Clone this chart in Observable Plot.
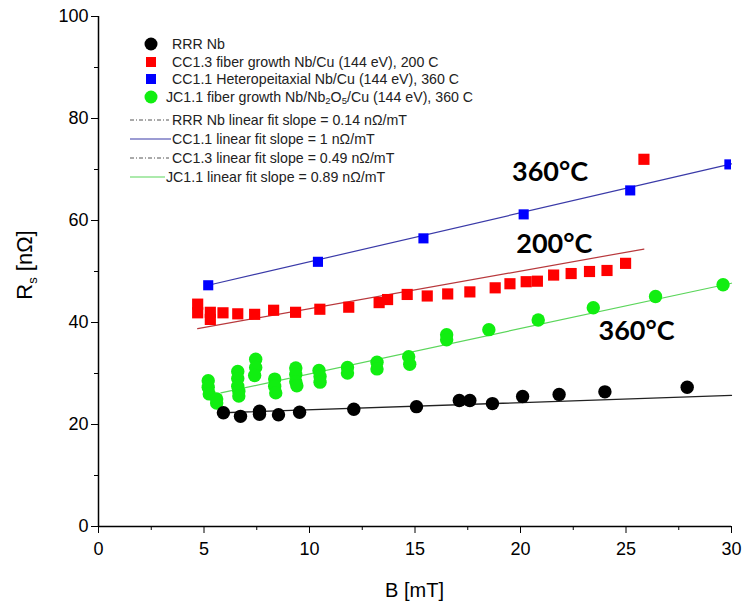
<!DOCTYPE html>
<html><head><meta charset="utf-8">
<script src="https://cdn.jsdelivr.net/npm/d3@7"></script>
<script src="https://cdn.jsdelivr.net/npm/@observablehq/plot@0.6"></script>
<style>
body{margin:0;background:#fff;}
#wrap{position:relative;width:743px;height:609px;font-family:"Liberation Sans",Arial,sans-serif;}
.row{position:absolute;font-size:14.2px;color:#222;white-space:nowrap;line-height:14px;height:14px;}
.sw{position:absolute;}
</style></head><body><div id="wrap"></div><script>
// ---- data ----
const rrrB  = [5.92,6.73,7.63,7.63,8.53,9.53,12.1,15.07,17.1,17.6,18.67,20.1,21.83,24.0,27.9];
const rrrRs = [22.3,21.6,22.0,22.6,21.9,22.4,23.0,23.5,24.7,24.7,24.1,25.5,25.9,26.4,27.3];

const jcB  = [5.2,5.2,5.25,5.6,5.6, 6.6,6.6,6.6,6.65,6.65, 7.45,7.45,7.4, 8.35,8.35,8.4, 9.35,9.35,9.35,9.4, 10.45,10.5,10.5, 11.8,11.8, 13.2,13.2, 14.7,14.75, 16.5,16.5, 18.5, 20.84, 23.45, 26.4, 29.6];
const jcRs = [28.6,27.3,26.0,25.0,24.2, 30.4,29.0,27.5,26.5,25.6, 32.8,31.2,29.6, 28.9,27.5,26.2, 31.1,29.8,28.4,27.6, 30.6,29.4,28.3, 31.2,30.1, 32.2,30.9, 33.3,31.8, 37.6,36.6, 38.6, 40.5, 42.9, 45.1, 47.4];

const cc13B  = [4.7,4.7,5.3,5.3,5.9,6.6,7.4,8.3,9.34,10.49,11.86,13.3,13.7,14.63,15.58,16.55,17.6,18.8,19.5,20.27,20.8,21.57,22.4,23.27,24.1,24.98,25.85];
const cc13Rs = [43.6,41.9,42.0,40.6,41.9,41.7,41.6,42.4,42.0,42.6,43.0,43.9,44.5,45.5,45.2,45.6,46.0,46.8,47.6,48.0,48.1,49.3,49.6,50.0,50.2,51.6,72.0];

const cc11B  = [5.2,10.4,15.4,20.15,25.2,29.9];
const cc11Rs = [47.3,51.9,56.5,61.2,65.9,71.0];

// linear fit lines (end points)
const fitRRR  = {B:[5.9,30],   Rs:[22.3,25.7]};
const fitCC11 = {B:[5.2,30],   Rs:[47.3,71.1]};
const fitCC13 = {B:[4.7,25.85],Rs:[38.8,54.4]};
const fitJC11 = {B:[5.8,30],   Rs:[26.2,47.7]};

const xTicks = [0,5,10,15,20,25,30];
const xMinor = [2.5,7.5,12.5,17.5,22.5,27.5];
const yTicks = [0,20,40,60,80,100];
const yMinor = [10,30,50,70,90];

const notes = [
  {B:21.4, Rs:69.4, label:"360°C"},
  {B:21.6, Rs:55.3, label:"200°C"},
  {B:25.5, Rs:38.3, label:"360°C"}
];

const legendEntries = [
  {kind:"circle", color:"#000000", text:"RRR Nb"},
  {kind:"square", color:"#ff0000", text:"CC1.3 fiber growth Nb/Cu (144 eV), 200 C"},
  {kind:"square", color:"#0000ff", text:"CC1.1 Heteropeitaxial Nb/Cu (144 eV), 360 C"},
  {kind:"circle", color:"#11ee11", text:"JC1.1 fiber growth Nb/Nb<sub>2</sub>O<sub>5</sub>/Cu (144 eV), 360 C"},
  {kind:"dashdot", color:"#555555", text:"RRR Nb linear fit slope = 0.14 nΩ/mT"},
  {kind:"line", color:"#3a3aa8", text:"CC1.1 linear fit slope = 1 nΩ/mT"},
  {kind:"dashdot", color:"#555555", text:"CC1.3 linear fit slope = 0.49 nΩ/mT"},
  {kind:"line", color:"#5bd65b", text:"JC1.1 linear fit slope = 0.89 nΩ/mT"}
];

// ---- build tables ----
const pts = (B, Rs) => B.map((b,i)=>({B:b, Rs:Rs[i]}));
const fit = f => f.B.map((b,i)=>({B:b, Rs:f.Rs[i]}));

const chart = Plot.plot({
  width:743, height:609,
  marginLeft:98, marginRight:12, marginTop:16, marginBottom:83,
  style:{fontFamily:'"Liberation Sans", Arial, sans-serif', fontSize:"18px", background:"#fff", color:"#000"},
  x:{domain:[0,30], label:null},
  y:{domain:[0,100], label:null},
  marks:[
    Plot.axisX({ticks:xTicks, tickSize:7, tickPadding:9, label:null, fontSize:18}),
    Plot.axisX({ticks:xMinor, tickSize:4, tickFormat:()=>"", label:null}),
    Plot.axisY({ticks:yTicks, tickSize:7, tickPadding:3, label:null, fontSize:18}),
    Plot.axisY({ticks:yMinor, tickSize:4, tickFormat:()=>"", label:null}),
    Plot.ruleX([0], {stroke:"#000", strokeWidth:1.5}),
    Plot.ruleY([0], {stroke:"#000", strokeWidth:1.5}),
    Plot.line(fit(fitRRR),  {x:"B", y:"Rs", stroke:"#222", strokeWidth:1.3}),
    Plot.line(fit(fitCC11), {x:"B", y:"Rs", stroke:"#3a3aa8", strokeWidth:1.2}),
    Plot.line(fit(fitCC13), {x:"B", y:"Rs", stroke:"#b8383c", strokeWidth:1.2}),
    Plot.line(fit(fitJC11), {x:"B", y:"Rs", stroke:"#5bd65b", strokeWidth:1.2}),
    Plot.dot(pts(jcB, jcRs),   {x:"B", y:"Rs", r:6.7, fill:"#11ee11", stroke:"none"}),
    Plot.dot(pts(rrrB, rrrRs), {x:"B", y:"Rs", r:6.7, fill:"#000", stroke:"none"}),
    Plot.dot(pts(cc13B, cc13Rs), {x:"B", y:"Rs", r:6.3, symbol:"square", fill:"#ff0000", stroke:"none"}),
    Plot.dot(pts(cc11B, cc11Rs), {x:"B", y:"Rs", r:5.7, symbol:"square", fill:"#0000ff", stroke:"none", clip:"frame"}),
    Plot.text(notes, {x:"B", y:"Rs", text:"label", fontFamily:"Lato, 'Open Sans', sans-serif", fontWeight:"bold", fontSize:27, fill:"#000"})
  ]
});

const wrap = document.getElementById("wrap");
wrap.appendChild(chart);

// axis titles
const svg = d3.select(chart);
const xs = chart.scale("x");
const xMid = (xs.range[0]+xs.range[1])/2;
svg.append("text").attr("x", xMid).attr("y", 597).attr("text-anchor","middle")
  .attr("font-size",20).attr("fill","#000").text("B [mT]");
const yl = svg.append("text").attr("transform",`translate(32,265) rotate(-90)`)
  .attr("text-anchor","middle").attr("font-size",22).attr("fill","#000");
yl.append("tspan").text("R");
yl.append("tspan").attr("font-size",13).attr("dy",5).text("s");
yl.append("tspan").attr("dy",-5).text(" [nΩ]");

// legend (HTML, over the chart)
const rowsY = [44,62,79,97,120,139,158,177];
legendEntries.forEach((e,i)=>{
  const cy = rowsY[i];
  const sw = document.createElementNS("http://www.w3.org/2000/svg","svg");
  sw.setAttribute("class","sw");
  sw.setAttribute("width",44); sw.setAttribute("height",16);
  sw.style.left="128px"; sw.style.top=(cy-8)+"px";
  let textLeft = (i===3||i===7) ? 166 : 172;
  if (e.kind==="circle") sw.innerHTML = `<circle cx="23" cy="8" r="6.5" fill="${e.color}"/>`;
  else if (e.kind==="square") sw.innerHTML = `<rect x="18" y="3" width="10" height="10" fill="${e.color}"/>`;
  else if (e.kind==="dashdot") sw.innerHTML = `<line x1="2" x2="41" y1="8" y2="8" stroke="${e.color}" stroke-width="1" stroke-dasharray="4,2,1,2"/>`;
  else sw.innerHTML = `<line x1="2" x2="${textLeft-129}" y1="8" y2="8" stroke="${e.color}" stroke-width="1.2"/>`;
  wrap.appendChild(sw);
  const d = document.createElement("div");
  d.className="row"; d.style.left=textLeft+"px"; d.style.top=(cy-7)+"px";
  d.innerHTML = e.text.replace(/<sub>/g,'<sub style="font-size:9.5px;vertical-align:-2px;line-height:0">');
  wrap.appendChild(d);
});
</script></body></html>
